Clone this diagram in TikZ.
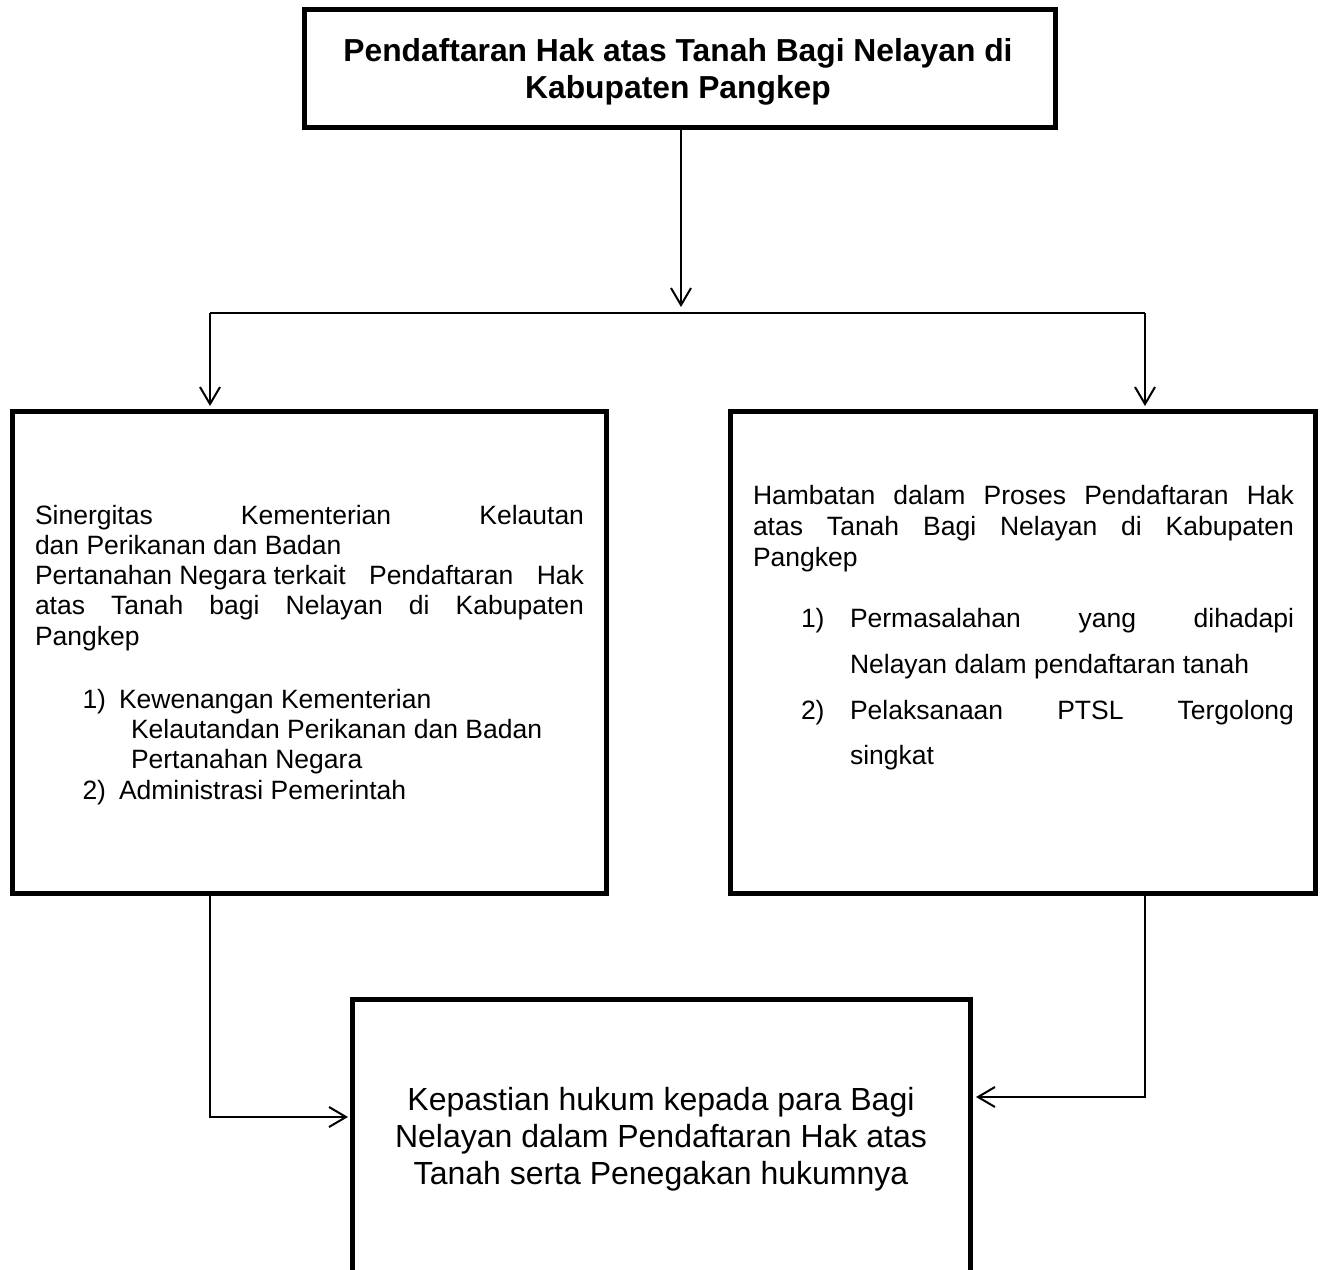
\documentclass[tikz,border=0pt]{standalone}
\usepackage{fontspec}
\setmainfont{Liberation Sans}
\usetikzlibrary{arrows.meta}
\begin{document}
\begin{tikzpicture}[x=1pt,y=-1pt,
  box/.style={draw=black,line width=5pt,rectangle,inner sep=0pt,outer sep=0pt,anchor=north west},
  conn/.style={line width=2pt,black},
  arr/.style={conn,-{Straight Barb[length=17pt,width=20pt]}},
  txt/.style={anchor=base west,inner sep=0pt,outer sep=0pt,font=\fontsize{26.5}{30}\selectfont},
  ttl/.style={anchor=base,inner sep=0pt,outer sep=0pt,font=\fontsize{31.8}{37}\selectfont\bfseries},
  btxt/.style={anchor=base,inner sep=0pt,outer sep=0pt,font=\fontsize{32}{37}\selectfont}]
\useasboundingbox (0,0) rectangle (1322,1269);
\fill[white] (0,0) rectangle (1322,1269);
\clip (0,0) rectangle (1322,1269);

% boxes
\node[box,minimum width=751pt,minimum height=118.5pt] (top) at (304,9) {};
\node[box,minimum width=594pt,minimum height=482pt] (L) at (12,411) {};
\node[box,minimum width=585pt,minimum height=482pt] (R) at (730,411) {};
\node[box,minimum width=618pt,minimum height=300pt] (B) at (352,999) {};

% title
\node[ttl] (t1) at (678,61) {Pendaftaran Hak atas Tanah Bagi Nelayan di};
\node[ttl] (t2) at (678,98) {Kabupaten Pangkep};

% left box text
\node[txt] (l1) at (35,524) {\makebox[549pt][s]{Sinergitas Kementerian Kelautan}};
\node[txt] (l2) at (35,554) {dan Perikanan dan Badan};
\node[txt] (l3) at (35,584) {\hbox to 549pt{Pertanahan Negara terkait\hfill\ Pendaftaran\hfill\ Hak}};
\node[txt] (l4) at (35,614) {\makebox[549pt][s]{atas Tanah bagi Nelayan di Kabupaten}};
\node[txt] (l5) at (35,645) {Pangkep};
\node[txt] (l6n) at (82.5,708) {1)};
\node[txt] (l6) at (119,708) {Kewenangan Kementerian};
\node[txt] (l7) at (131,738) {Kelautandan Perikanan dan Badan};
\node[txt] (l8) at (131,768) {Pertanahan Negara};
\node[txt] (l9n) at (82.5,799) {2)};
\node[txt] (l9) at (119,799) {Administrasi Pemerintah};

% right box text
\node[txt] (r1) at (753,504) {\makebox[541pt][s]{Hambatan dalam Proses Pendaftaran Hak}};
\node[txt] (r2) at (753,535) {\makebox[541pt][s]{atas Tanah Bagi Nelayan di Kabupaten}};
\node[txt] (r3) at (753,566) {Pangkep};
\node[txt] (r4n) at (801,627) {1)};
\node[txt] (r4) at (850,627) {\makebox[444pt][s]{Permasalahan yang dihadapi}};
\node[txt] (r5) at (850,673) {Nelayan dalam pendaftaran tanah};
\node[txt] (r6n) at (801,719) {2)};
\node[txt] (r6) at (850,719) {\makebox[444pt][s]{Pelaksanaan PTSL Tergolong}};
\node[txt] (r7) at (850,764) {singkat};

% bottom box text
\node[btxt] (b1) at (661,1110) {Kepastian hukum kepada para Bagi};
\node[btxt] (b2) at (661,1147) {Nelayan dalam Pendaftaran Hak atas};
\node[btxt] (b3) at (661,1184) {Tanah serta Penegakan hukumnya};

% connectors
\coordinate (j) at (681,307);
\coordinate (hl) at (210,313);
\coordinate (hr) at (1145,313);
\coordinate (bl) at (210,1117);
\coordinate (br) at (1145,1097);
\draw[arr] (top.south -| j) -- (j);
\draw[conn] (hl) -- (hr);
\draw[arr,shorten >=5pt] (hl) -- (hl |- L.north);
\draw[arr,shorten >=5pt] (hr) -- (hr |- R.north);
\draw[arr,shorten >=4pt] (L.south -| bl) |- (bl -| B.west);
\draw[arr,shorten >=6pt] (R.south -| br) |- (br -| B.east);
\end{tikzpicture}
\end{document}
